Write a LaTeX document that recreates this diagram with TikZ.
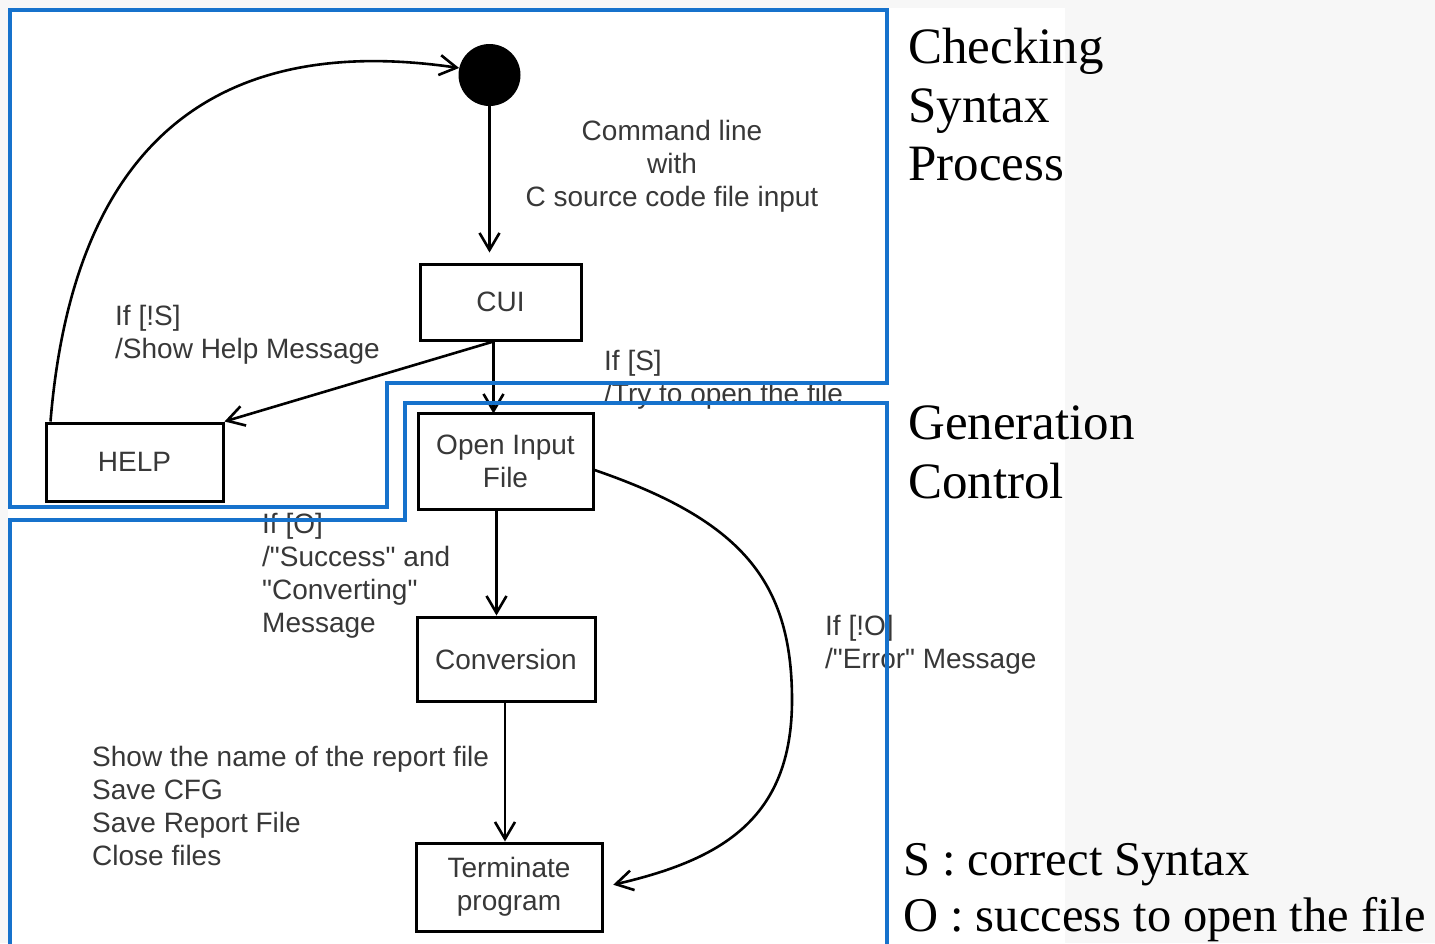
\documentclass[tikz,border=0pt]{standalone}
\usepackage{fontspec}
\setmainfont{Liberation Serif}
\setsansfont{Liberation Sans}[Ligatures=TeXOff]
\usetikzlibrary{arrows.meta}
\definecolor{frameblue}{RGB}{22,114,204}
\definecolor{slidebg}{RGB}{247,247,247}
\tikzset{
  lbl/.style={font=\sffamily\fontsize{28}{33}\selectfont, text=black!78, inner sep=0pt},
  state/.style={draw, line width=3pt, rectangle, align=center, inner sep=0pt,
                font=\sffamily\fontsize{28}{33}\selectfont, text=black!78},
  arr/.style={-{Straight Barb[length=17pt,width=20pt]}, line width=2.6pt},
  region/.style={draw=frameblue, line width=4.5pt, line join=miter},
  head/.style={font=\fontsize{51}{58.5}\selectfont, align=left, anchor=north west, inner sep=0pt},
  keytext/.style={font=\fontsize{48.5}{56}\selectfont, align=left, anchor=north west, inner sep=0pt}
}
\begin{document}
\begin{tikzpicture}[x=1pt, y=-1pt]
\useasboundingbox (0,0) rectangle (1435,943);
% slide background and the white diagram area
\fill[slidebg] (0,0) rectangle (1435,943);
\fill[white] (8,8) rectangle (1065,943);

% states
\node[circle, fill=black, minimum size=62pt, inner sep=0pt] (init) at (489.5,75) {};
\node[state, minimum width=161pt, minimum height=76pt] (cui) at (500.5,302) {CUI};
\node[state, minimum width=177pt, minimum height=78pt] (help) at (134.5,462) {HELP};
\node[state, minimum width=175pt, minimum height=96pt] (open) at (505.5,461) {Open Input\\File};
\node[state, minimum width=178pt, minimum height=84pt] (conv) at (506,659) {Conversion};
\node[state, minimum width=186pt, minimum height=88pt] (term) at (509,887) {Terminate\\program};

% transitions
\draw[arr, shorten >=10pt] (init.south) -- (init.south |- cui.north);
\coordinate (split) at ([xshift=-7pt]cui.south);
\draw[arr] (split) -- (help.north east);
\draw[arr, shorten >=-2pt] (split) -- (split |- open.north);
\draw[arr] ([xshift=6pt]help.north west) .. controls (72,160) and (200,30) .. (init.167);
\draw[arr] ([xshift=-9pt]open.south) -- ([xshift=-9pt]open.south |- conv.north);
\draw[arr] ([xshift=-1pt]conv.south) -- ([xshift=-1pt]conv.south |- term.north);
\draw[arr, shorten >=10pt] ([yshift=-9pt]open.east) .. controls (740,520) and (792,580) .. (792,700)
      .. controls (792,820) and (720,860) .. (term.east);

% transition labels
\node[lbl, anchor=north, align=center] (cmdlbl) at (672,120) {Command line\\with\\C source code file input};
\node[lbl, anchor=north west, align=left] (nslbl) at (115,305) {If [!S]\\/Show Help Message};
\node[lbl, anchor=north west, align=left] (slbl) at (604,350) {If [S]\\/Try to open the file};
\node[lbl, anchor=north west, align=left] (olbl) at (262,513) {If [O]\\/"Success" and\\"Converting"\\Message};
\node[lbl, anchor=north west, align=left] (nolbl) at (825,615) {If [!O]\\/"Error" Message};
\node[lbl, anchor=north west, align=left] (finlbl) at (92,746) {Show the name of the report file\\Save CFG\\Save Report File\\Close files};

% process regions
\draw[region] (10,10) -- (887,10) -- (887,383) -- (387,383) -- (387,507) -- (10,507) -- cycle;
\draw[region] (10,950) -- (10,520) -- (405,520) -- (405,403) -- (887,403) -- (887,950);

% region titles and key
\node[head] (csp) at (908,28) {Checking\\Syntax\\Process};
\node[head] (gc) at (908,406) {Generation\\Control};
\node[keytext] (key) at (903,843) {S : correct Syntax\\O : success to open the file};
\end{tikzpicture}
\end{document}
